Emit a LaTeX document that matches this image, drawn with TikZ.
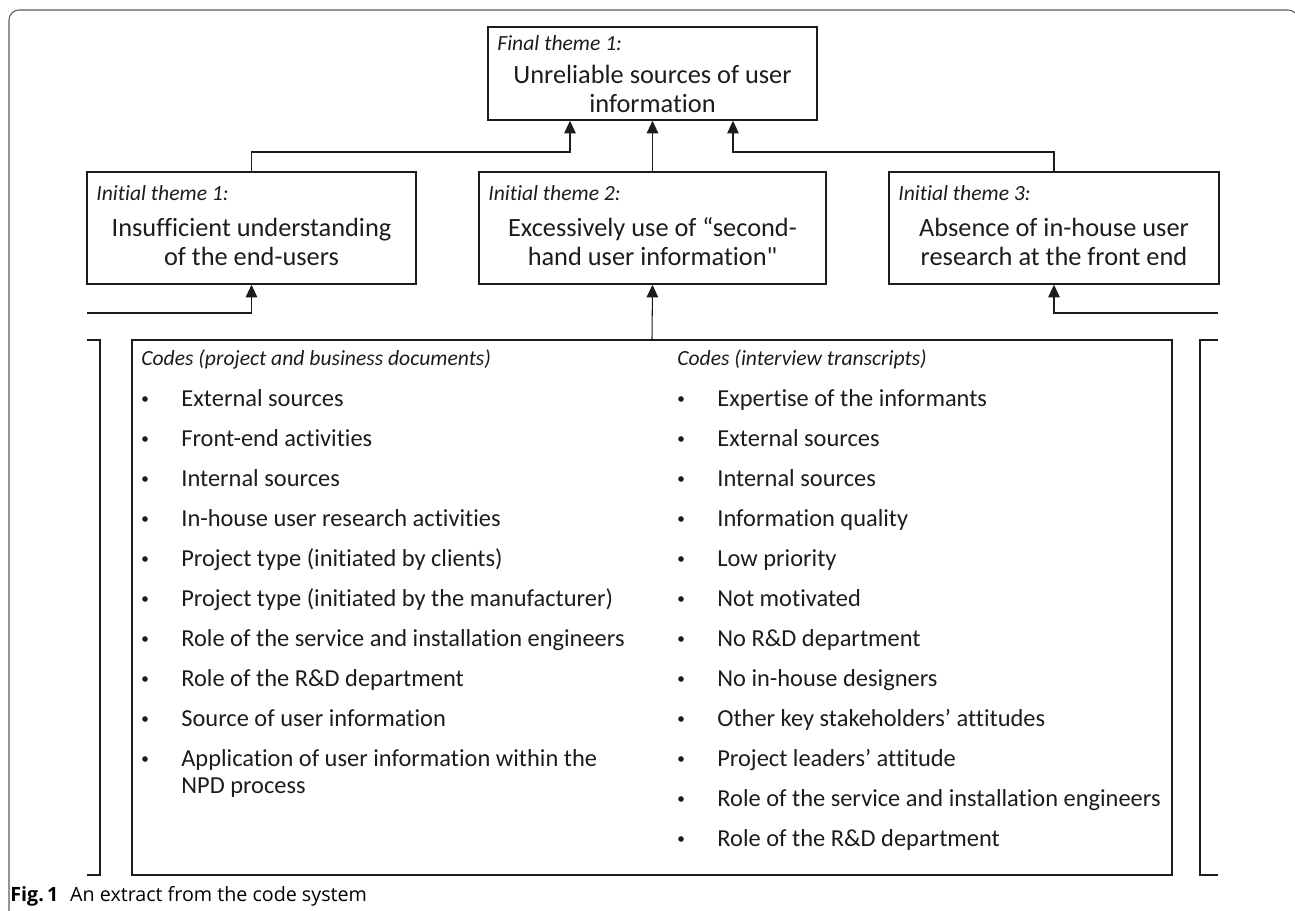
\documentclass[tikz,border=0pt]{standalone}
\usepackage{fontspec}
\setmainfont{Carlito}[Ligatures=NoCommon]
\newfontfamily\capfont{Open Sans}
\usepackage{xcolor}
\usepackage{tikz}
\usetikzlibrary{arrows.meta}
\definecolor{ink}{HTML}{1C1C1C}
\definecolor{edge}{HTML}{5A5A5A}

\begin{document}
\begin{tikzpicture}[
  x=0.02cm, y=-0.02cm,
  >={Triangle[length=7.2pt,width=6.6pt]},
  themebox/.style={draw=ink, line width=0.9pt, inner sep=0pt, minimum height=2.24cm},
  tag/.style={anchor=base west, inner sep=0pt, text=ink, font=\fontsize{12.3}{14}\selectfont\itshape},
  headline/.style={anchor=base, inner sep=0pt, align=center, text=ink, font=\fontsize{15}{16.3}\selectfont},
  code/.style={anchor=base west, inner sep=0pt, align=left, text=ink, font=\fontsize{13.9}{15.3}\selectfont},
  flow/.style={->, line width=0.6pt, ink},
  bracket/.style={line width=0.8pt, ink},
]
\useasboundingbox (0,0) rectangle (1295,910);
\clip (0,0) rectangle (1295,910);

% ---------- outer frame ----------
\draw[edge, line width=0.6pt, rounded corners=0.2cm] (9,930) |- (1298,10) -- (1298,930);

% ---------- final theme ----------
\node[themebox, minimum width=6.58cm, minimum height=1.86cm] (FT) at (652.5,73.5) {};
\node[tag] (FTtag) at (497,50) {Final theme 1:};
\node[headline] (FTtxt) at (652.5,112) {Unreliable sources of user\\information};

% ---------- initial themes ----------
% (base of a two-line text is its last line)
\def\ty{228}
\node[themebox, minimum width=6.58cm] (IT1) at (251.5,\ty) {};
\node[tag] (IT1tag) at (96,\ty-28) {Initial theme 1:};
\node[headline] (IT1txt) at (251.5,\ty+37) {Insufficient understanding\\of the end-users};

\node[themebox, minimum width=6.94cm] (IT2) at (652.5,\ty) {};
\node[tag] (IT2tag) at (488,\ty-28) {Initial theme 2:};
\node[headline] (IT2txt) at (652.5,\ty+37) {Excessively use of “second-\\hand user information\textquotedbl};

\node[themebox, minimum width=6.6cm] (IT3) at (1054,\ty) {};
\node[tag] (IT3tag) at (898,\ty-28) {Initial theme 3:};
\node[headline] (IT3txt) at (1054,\ty+37) {Absence of in-house user\\research at the front end};

% themes up to the final theme
\coordinate (j1) at (570,152);
\coordinate (j3) at (733,152);
\draw[flow] (IT1.north) |- (j1) -- (j1 |- FT.south);
\draw[flow] (IT2.north) -- (FT.south);
\draw[flow] (IT3.north) |- (j3) -- (j3 |- FT.south);

% ---------- codes ----------
\node[draw=ink, line width=0.75pt, minimum width=20.8cm, minimum height=10.7cm, inner sep=0pt] (codes) at (652,607.5) {};
\draw[flow] (codes.north) -- (IT2.south);

\node[tag] (Lhead) at (141,365) {Codes (project and business documents)};
\foreach \t [count=\i from 0] in {External sources, Front-end activities, Internal sources,
    In-house user research activities, Project type (initiated by clients),
    Project type (initiated by the manufacturer), Role of the service and installation engineers,
    Role of the R\&D department, Source of user information}
  {\node[code] (L\i) at (181,406+40*\i) {\t};
   \fill[ink] (145,399+40*\i) circle (2.8);}
\node[code] (L9) at (181,793) {Application of user information within the\\NPD process};
\fill[ink] (145,759) circle (2.8);

\node[tag] (Rhead) at (677,365) {Codes (interview transcripts)};
\foreach \t [count=\i from 0] in {Expertise of the informants, External sources, Internal sources,
    Information quality, Low priority, Not motivated, No R\&D department,
    No in-house designers, Other key stakeholders’ attitudes, Project leaders’ attitude,
    Role of the service and installation engineers, Role of the R\&D department}
  {\node[code] (R\i) at (717,406+40*\i) {\t};
   \fill[ink] (681,399+40*\i) circle (2.8);}

% brackets and side inputs
\draw[bracket] (87,340) -| (100,875) -- (87,875);
\draw[bracket] (1218,340) -| (1200,875) -- (1218,875);
\coordinate (inL) at (87,313);
\coordinate (inR) at (1218,313);
\draw[flow] (inL) -| (IT1.south);
\draw[flow] (inR) -| (IT3.south);

% ---------- caption ----------
\node[anchor=base west, inner sep=0pt, font=\capfont\fontsize{11.2}{13}\selectfont] (cap) at (10,901)
  {\textbf{Fig.\,1}\hspace{0.6em}An extract from the code system};

\end{tikzpicture}
\end{document}
